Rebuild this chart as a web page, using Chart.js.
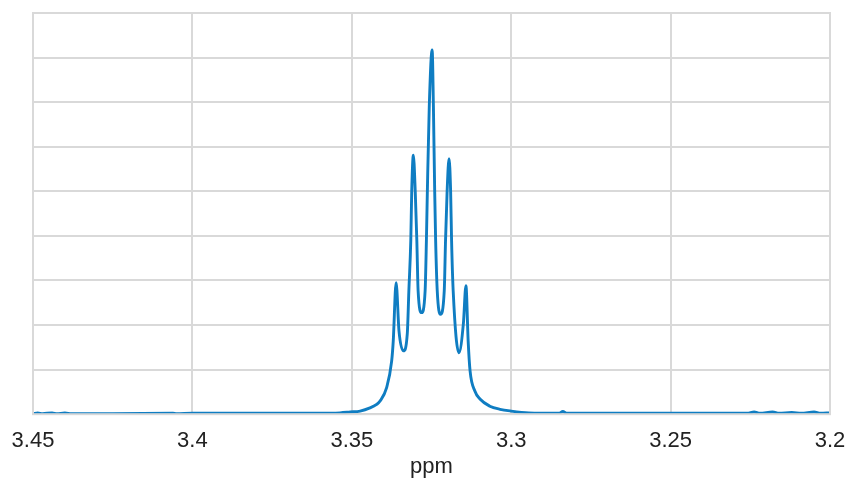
<!DOCTYPE html>
<html>
<head>
<meta charset="utf-8">
<script src="https://cdn.jsdelivr.net/npm/chart.js@4/dist/chart.umd.min.js"></script>
<style>
  body { margin: 0; background: #fff; }
</style>
</head>
<body>
<canvas id="myChart" width="847" height="480"></canvas>
<script>
// chemical shift (ppm)
const ppm = [
  3.450, 3.4485, 3.447, 3.444, 3.4425, 3.440, 3.438, 3.425, 3.4061, 3.405,
  3.400, 3.380, 3.360, 3.3537, 3.3505, 3.3474, 3.3443, 3.3422, 3.3412, 3.3391,
  3.3375, 3.3370, 3.3361, 3.3352, 3.3338, 3.3326, 3.3321, 3.3315, 3.3312, 3.3307,
  3.3301, 3.3296, 3.3292, 3.3281, 3.3270, 3.3266, 3.3263, 3.3257, 3.3248, 3.3244,
  3.3240, 3.3237, 3.3232, 3.3222, 3.3210, 3.3206, 3.3201, 3.3195, 3.3190, 3.3187,
  3.3182, 3.3164, 3.3150, 3.3142, 3.3135, 3.3129, 3.3114, 3.3098, 3.3067, 3.3035,
  3.3000, 3.2945, 3.2850, 3.2838, 3.2825, 3.260, 3.240, 3.226, 3.2238, 3.222,
  3.218, 3.216, 3.212, 3.209, 3.205, 3.203, 3.200
];
// signal intensity (arbitrary units)
const intensity = [
  0.01, 0.03, 0.01, 0.03, 0.01, 0.03, 0.01, 0.01, 0.02, 0.01,
  0.02, 0.02, 0.02, 0.03, 0.05, 0.07, 0.14, 0.22, 0.29, 0.59,
  1.19, 1.64, 2.95, 1.87, 1.42, 1.80, 2.77, 3.89, 5.00, 5.81,
  5.00, 3.89, 2.77, 2.28, 2.77, 3.89, 5.00, 6.90, 8.17, 6.90,
  5.00, 3.89, 2.77, 2.24, 2.77, 3.89, 5.00, 5.73, 5.00, 3.89,
  2.77, 1.38, 2.03, 2.88, 1.64, 0.97, 0.52, 0.34, 0.18, 0.11,
  0.07, 0.03, 0.02, 0.06, 0.02, 0.02, 0.02, 0.02, 0.05, 0.02,
  0.05, 0.02, 0.04, 0.02, 0.05, 0.02, 0.03
];
const xTicks = [3.45, 3.4, 3.35, 3.3, 3.25, 3.2];
const xLabel = 'ppm';

const points = ppm.map((p, i) => ({ x: p, y: intensity[i] }));

const gridColor = '#d9d9d9';

// setup
const data = {
  datasets: [{
    label: 'spectrum',
    data: points,
    borderColor: '#0f7dc2',
    borderWidth: 2.9,
    pointRadius: 0,
    fill: false,
    cubicInterpolationMode: 'monotone'
  }]
};

// config
const config = {
  type: 'line',
  data,
  options: {
    responsive: false,
    animation: false,
    layout: { padding: { left: 33, right: 17, top: 13, bottom: 0 } },
    plugins: { legend: { display: false }, tooltip: { enabled: false } },
    scales: {
      x: {
        type: 'linear',
        reverse: true,
        min: 3.2,
        max: 3.45,
        afterBuildTicks: (scale) => { scale.ticks = xTicks.map(v => ({ value: v })); },
        afterFit: (scale) => { scale.paddingLeft = 0; scale.paddingRight = 0; },
        grid: { color: gridColor, lineWidth: 2, drawTicks: false },
        border: { color: '#c8c8c8', width: 2 },
        ticks: {
          padding: 14,
          color: '#222',
          font: { family: 'Liberation Sans', size: 22 },
          maxRotation: 0,
          callback: (v) => String(v)
        },
        title: {
          display: true,
          text: xLabel,
          color: '#222',
          font: { family: 'Liberation Sans', size: 22 },
          padding: { top: -15, bottom: 0 }
        }
      },
      y: {
        min: 0,
        max: 9,
        ticks: { display: false, stepSize: 1 },
        grid: { color: gridColor, lineWidth: 2, drawTicks: false },
        border: { color: gridColor, width: 2 },
        afterFit: (scale) => { scale.width = 0; }
      }
    }
  },
  plugins: [{
    id: 'frame',
    afterDraw(chart) {
      const { ctx, chartArea: a } = chart;
      ctx.save();
      ctx.strokeStyle = gridColor;
      ctx.lineWidth = 2;
      ctx.strokeRect(a.left, a.top, a.right - a.left, a.bottom - a.top);
      ctx.restore();
    }
  }]
};

// render init block
const myChart = new Chart(document.getElementById('myChart'), config);
</script>
</body>
</html>
